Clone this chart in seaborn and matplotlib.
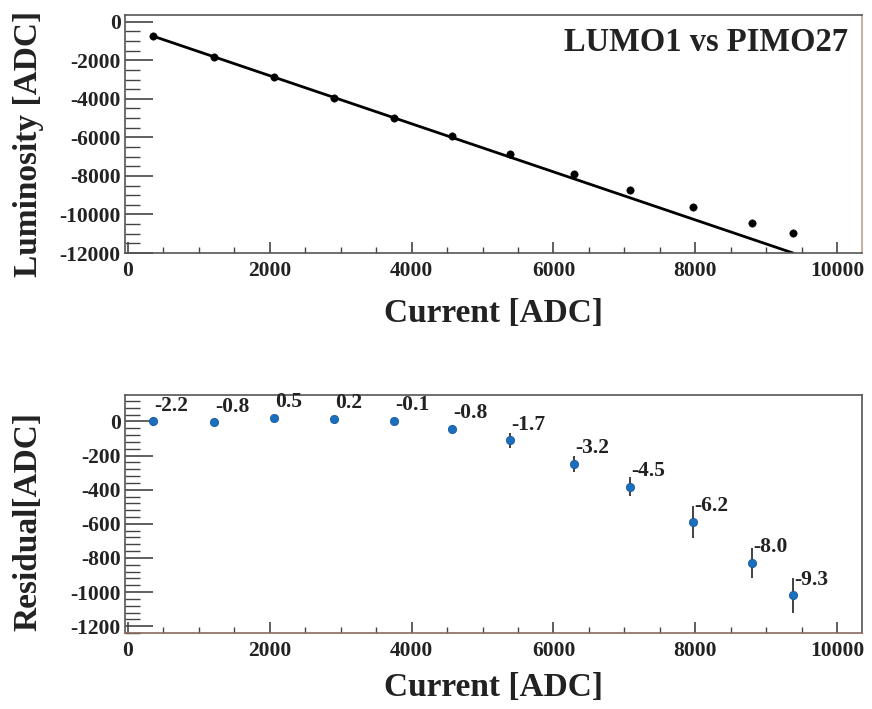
import matplotlib
matplotlib.use("Agg")
import matplotlib.pyplot as plt
import seaborn as sns
import numpy as np
import pandas as pd
from matplotlib.ticker import MultipleLocator

# ---------------- data ----------------
current = [353, 1213, 2059, 2906, 3752, 4570, 5388, 6290, 7080, 7969, 8801, 9379]
luminosity = [-743, -1834, -2873, -3964, -5003, -5938, -6873, -7912, -8743, -9626, -10457, -10977]
residual = [0, -6, 23, 16, 4, -43, -111, -248, -382, -589, -829, -1019]
residual_err = [28, 12, 12, 12, 12, 20, 43, 46, 57, 96, 88, 102]
residual_labels = ["-2.2", "-0.8", "0.5", "0.2", "-0.1", "-0.8", "-1.7", "-3.2",
                   "-4.5", "-6.2", "-8.0", "-9.3"]
fit_slope = -1.2475
fit_intercept = -303.0
title_text = "LUMO1 vs PIMO27"

# ---------------- style ----------------
sns.set_theme(style="white")
plt.rcParams['font.family'] = ['Liberation Serif', 'DejaVu Serif']
plt.rcParams['font.weight'] = 'bold'
plt.rcParams['axes.unicode_minus'] = False

fig = plt.figure(figsize=(8.72, 7.09), dpi=100)
W, H = 872, 709
def box(l, t, r, b):
    return [l / W, 1 - b / H, (r - l) / W, (b - t) / H]

ax1 = fig.add_axes(box(125, 15, 862, 253))
ax2 = fig.add_axes(box(125, 395, 862, 633))

df = pd.DataFrame({"current": current, "luminosity": luminosity,
                   "residual": residual, "err": residual_err})
fit_x = [current[0], current[-1]]
fit_df = pd.DataFrame({"x": fit_x,
                       "y": [fit_intercept + fit_slope * v for v in fit_x]})

TXT = "#222222"
LBL = 24

# Top panel
sns.lineplot(data=fit_df, x="x", y="y", ax=ax1, color="black", linewidth=2.0)
sns.scatterplot(data=df, x="current", y="luminosity", ax=ax1, color="black",
                s=28, edgecolor="black", zorder=5)
ax1.set_xlim(-40, 10350)
ax1.set_ylim(-12000, 350)
ax1.xaxis.set_major_locator(MultipleLocator(2000))
ax1.xaxis.set_minor_locator(MultipleLocator(500))
ax1.yaxis.set_major_locator(MultipleLocator(2000))
ax1.yaxis.set_minor_locator(MultipleLocator(500))
ax1.set_xlabel("Current [ADC]", fontsize=LBL, fontweight='bold', color=TXT)
ax1.set_ylabel("Luminosity [ADC]", fontsize=LBL, fontweight='bold', color=TXT)
ax1.xaxis.set_label_coords(0.5, -0.19)
ax1.yaxis.set_label_coords(-0.11, 0.46)
ax1.text(0.981, 0.885, title_text, transform=ax1.transAxes, ha="right", va="center",
         fontsize=23.5, fontweight="bold", color=TXT)

# Bottom panel
ax2.errorbar(current, residual, yerr=residual_err, fmt="none", ecolor="#333333",
             elinewidth=1.3, capsize=0, zorder=4)
sns.scatterplot(data=df, x="current", y="residual", ax=ax2, color="#1a6fc0",
                s=35, edgecolor="#1a5a9a", linewidth=0.6, zorder=5)
for xv, yv, lab in zip(current, residual, residual_labels):
    ax2.annotate(lab, (xv, yv), xytext=(1, 4), textcoords="offset points",
                 ha="left", va="bottom", fontsize=15.5, fontweight="bold", color=TXT)
ax2.set_xlim(-40, 10350)
ax2.set_ylim(-1240, 155)
ax2.xaxis.set_major_locator(MultipleLocator(2000))
ax2.xaxis.set_minor_locator(MultipleLocator(500))
ax2.yaxis.set_major_locator(MultipleLocator(200))
ax2.yaxis.set_minor_locator(MultipleLocator(40))
ax2.set_xlabel("Current [ADC]", fontsize=LBL, fontweight='bold', color=TXT)
ax2.set_ylabel("Residual[ADC]", fontsize=LBL, fontweight='bold', color=TXT)
ax2.xaxis.set_label_coords(0.5, -0.165)
ax2.yaxis.set_label_coords(-0.11, 0.47)

for ax in (ax1, ax2):
    for s in ax.spines.values():
        s.set_visible(True)
        s.set_color("#555555")
        s.set_linewidth(1.2)
    ax.tick_params(axis="both", which="both", direction="in", colors="#444444",
                   labelcolor=TXT, labelsize=15.5, pad=3,
                   bottom=True, left=True, top=False, right=False)
    ax.tick_params(axis="y", which="major", length=20, width=1.2)
    ax.tick_params(axis="y", which="minor", length=11, width=1.0)
    ax.tick_params(axis="x", which="major", length=8, width=1.2, pad=6)
    ax.tick_params(axis="x", which="minor", length=4, width=1.0)
    for lbl in ax.get_xticklabels() + ax.get_yticklabels():
        lbl.set_fontweight("bold")
    ax.grid(False)

ax1.spines["right"].set_color("#c0a090")
ax2.spines["bottom"].set_color("#8a6a60")

fig.savefig("out.png", dpi=100)
